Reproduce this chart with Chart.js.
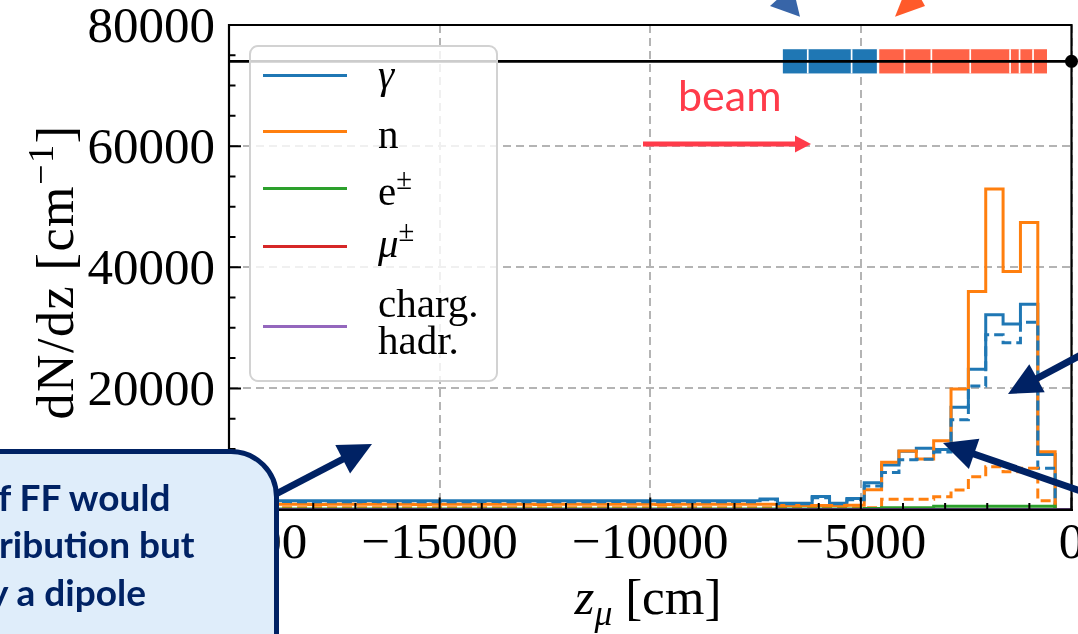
<!DOCTYPE html>
<html>
<head>
<meta charset="utf-8">
<script src="https://cdn.jsdelivr.net/npm/chart.js@4.4.1/dist/chart.umd.min.js"></script>
<style>
  html, body { margin: 0; padding: 0; background: #fff; }
  #wrap { position: relative; width: 1078px; height: 634px; overflow: hidden; background: #fff; }
  #c { position: absolute; left: 0; top: 0; }
  .abs { position: absolute; white-space: nowrap; }
  .serif { font-family: "Liberation Serif", "DejaVu Serif", serif; color: #000; }
  .sup { font-size: 0.7em; position: relative; top: -0.55em; line-height: 0; vertical-align: 0; }
  .sub { font-size: 0.7em; position: relative; top: 0.3em; line-height: 0; vertical-align: 0; }
  #legendBox { position: absolute; left: 249px; top: 45px; width: 249px; height: 337px; box-sizing: border-box;
    border: 2.5px solid #d2d2d2; border-radius: 9px; background: rgba(255,255,255,0.8); }
  .legLine { position: absolute; height: 3px; }
  .legText { font-size: 41px; line-height: 40px; }
  #callout { position: absolute; left: -80px; top: 449px; width: 359px; height: 320px; box-sizing: border-box;
    border: 5px solid #002264; border-radius: 48px; background: #dfedfa; }
  .callTxt { font-family: Lato, "Open Sans", sans-serif; font-weight: 700; font-size: 37px; line-height: 36px; color: #002264; }
  #beamTxt { font-family: Lato, "Open Sans", sans-serif; font-size: 43px; line-height: 43px; color: #ff3b4a; }
</style>
</head>
<body>
<div id="wrap">
  <canvas id="c" width="1078" height="634"></canvas>

  <svg class="abs" width="1078" height="634" style="left:0;top:0">
    <polygon points="776.7,0 796,0 800,16.7 770,6" fill="#3865a8"/>
    <polygon points="901.7,0 921.7,0 925,6 895,16.7" fill="#ff5a2a"/>
    <line x1="643" y1="144" x2="798" y2="144" stroke="#ff3b4a" stroke-width="5"/>
    <polygon points="795,135.5 811,144 795,152.5" fill="#ff3b4a"/>
  </svg>
  <div id="beamTxt" class="abs" style="left:678px;top:73px">beam</div>

  <div id="legendBox"></div>
  <div id="legendItems"></div>

  <div class="abs serif" id="ytitle" style="left:55px;top:272px;font-size:52px;line-height:51px;letter-spacing:1.5px;transform:translate(-50%,-50%) rotate(-90deg);">dN/dz [cm<span class="sup">−1</span>]</div>
  <div class="abs serif" id="xtitle" style="left:648px;top:572px;font-size:51px;line-height:51px;transform:translateX(-50%);"><i>z</i><span class="sub"><i>μ</i></span> [cm]</div>

  <div id="callout"></div>
  <div class="abs callTxt" style="left:-2px;top:479px">f FF would</div>
  <div class="abs callTxt" style="left:-1px;top:526px">ribution but</div>
  <div class="abs callTxt" style="left:-11px;top:574px">y a dipole</div>

  <svg class="abs" width="1078" height="634" style="left:0;top:0">
    <line x1="276" y1="494" x2="345" y2="458" stroke="#002264" stroke-width="7"/>
    <polygon points="372,444 350.1,473.4 335.3,445" fill="#002264"/>
    <line x1="1090" y1="350" x2="1034" y2="380" stroke="#002264" stroke-width="7"/>
    <polygon points="1008,394 1029.3,364.2 1044.7,392.2" fill="#002264"/>
    <line x1="1095" y1="496" x2="971" y2="453" stroke="#002264" stroke-width="7"/>
    <polygon points="943,443 979.4,438.7 968.9,468.9" fill="#002264"/>
  </svg>
</div>

<script>
// ---------------- DATA ----------------
// histogram binning (cm): 49 bins of ~412 cm, first edge at -20164 cm
const binStart = -20164;
const binWidth = 412;

// dN/dz per bin [cm^-1]
const gammaSolid = [1450,1450,1450,1460,1450,1440,1450,1450,1460,1450,
                    1450,1440,1450,1450,1450,1460,1450,1450,1440,1450,
                    1450,1450,1460,1450,1450,1440,1450,1450,1450,1460,
                    1450,1750,1050,1050,2150,1050,1800,4430,7360,9600,
                    10100,9900,16900,23150,32150,30650,33900,9100,0];
const gammaDashed = [1300,1300,1300,1310,1300,1290,1300,1300,1310,1300,
                     1300,1290,1300,1300,1300,1310,1300,1300,1290,1300,
                     1300,1300,1310,1300,1300,1290,1300,1300,1300,1310,
                     1300,1600,950,950,1950,950,1600,3900,6100,8200,
                     8300,9500,14800,20400,28850,27550,30900,6800,0];
const neutronSolid = [850,850,850,860,850,840,850,850,860,850,
                      850,840,850,850,850,860,850,850,840,850,
                      850,850,860,850,850,840,850,850,850,860,
                      850,850,650,650,650,650,700,3250,7800,9650,
                      8350,11370,19900,36000,52900,39300,47400,9550,0];
const neutronDashed = [300,300,300,300,300,300,300,300,300,300,
                       300,300,300,300,300,300,300,300,300,300,
                       300,300,300,300,300,300,300,300,300,300,
                       300,300,300,300,300,300,300,300,1700,1700,
                       1700,2100,3200,5400,7050,6250,6800,1450,0];
const electrons = [100,100,100,100,100,100,100,100,100,100,
                   100,100,100,100,100,100,100,100,100,100,
                   100,100,100,100,100,100,100,100,100,100,
                   100,100,100,100,100,100,100,150,300,300,
                   300,550,550,550,550,550,550,550,0];
const muons = [0,0,0,0,0,0,0,0,0,0, 0,0,0,0,0,0,0,0,0,0,
               0,0,0,0,0,0,0,0,0,0, 0,0,0,0,0,0,0,0,0,0,
               0,0,0,0,0,0,0,0,0];
const hadrons = [0,0,0,0,0,0,0,0,0,0, 0,0,0,0,0,0,0,0,0,0,
                 0,0,0,0,0,0,0,0,0,0, 0,0,0,0,0,0,0,0,0,0,
                 0,0,0,0,0,0,0,0,0];

// legend
const seriesLabels = ['<i>γ</i>', 'n', 'e<span class="sup">±</span>', '<i>μ</i><span class="sup">±</span>', 'charg.<br>hadr.'];
const seriesColors = ['#1f77b4', '#ff7f0e', '#2ca02c', '#d62728', '#9467bd'];

// beam line and magnet elements (z in cm, height in dN/dz units)
const beamLineLevel = 74000;
const beamLineRange = [-20000, 0];
const magnetLow = 72000, magnetHigh = 76000;
const dipoleEdges = [-6852, -6261, -5220, -4621];
const quadEdges = [-4564, -3966, -3327, -2404, -1458, -1233, -913, -582];

// axis ticks
const xTickValues = [-20000, -15000, -10000, -5000, 0];
const yTickValues = [0, 20000, 40000, 60000, 80000];

// ---------------- CHART ----------------
function stepPoints(vals) {
  const pts = [{x: binStart, y: 0}];
  vals.forEach((v, i) => pts.push({x: binStart + i * binWidth, y: v}));
  const end = binStart + vals.length * binWidth;
  pts.push({x: end, y: vals[vals.length - 1]});
  pts.push({x: end, y: 0});
  return pts;
}
function histDS(vals, color, dashed, order) {
  return {
    data: stepPoints(vals), borderColor: color, borderWidth: 3, stepped: 'before',
    borderDash: dashed ? [10, 5] : [], pointRadius: 0, fill: false, order: order
  };
}
const fmt = v => String(v).replace('-', '\u2212');

const magnetsPlugin = {
  id: 'magnets',
  beforeDatasetsDraw(chart) {
    const {ctx, scales: {x, y}} = chart;
    const yTop = y.getPixelForValue(magnetHigh), yBot = y.getPixelForValue(magnetLow);
    const drawSet = (edges, color) => {
      ctx.fillStyle = color;
      ctx.fillRect(x.getPixelForValue(edges[0]), yTop, x.getPixelForValue(edges[edges.length - 1]) - x.getPixelForValue(edges[0]), yBot - yTop);
      ctx.strokeStyle = '#fff'; ctx.lineWidth = 1.7;
      for (let i = 1; i < edges.length - 1; i++) {
        const px = x.getPixelForValue(edges[i]);
        ctx.beginPath(); ctx.moveTo(px, yTop); ctx.lineTo(px, yBot); ctx.stroke();
      }
    };
    ctx.save();
    drawSet(dipoleEdges, '#1f77b4');
    drawSet(quadEdges, '#ff6347');
    ctx.restore();
  }
};

const ticksPlugin = {
  id: 'ticksIn',
  afterDraw(chart) {
    const {ctx, chartArea: a, scales: {x, y}} = chart;
    ctx.save();
    ctx.strokeStyle = '#000'; ctx.lineWidth = 2.2;
    ctx.beginPath();
    ctx.moveTo(a.left, a.bottom); ctx.lineTo(a.left, a.top); ctx.lineTo(a.right, a.top); ctx.lineTo(a.right, a.bottom); ctx.lineTo(a.left, a.bottom);
    ctx.stroke();
    ctx.lineWidth = 2;
    ctx.beginPath();
    for (let v = x.min; v <= x.max; v += 1000) {
      const px = x.getPixelForValue(v);
      const L = (v % 5000 === 0) ? 12 : 6.5;
      ctx.moveTo(px, a.bottom); ctx.lineTo(px, a.bottom - L);
    }
    for (let v = y.min; v <= y.max; v += 5000) {
      const py = y.getPixelForValue(v);
      const L = (v % 20000 === 0) ? 12 : 6.5;
      ctx.moveTo(a.left, py); ctx.lineTo(a.left + L, py);
    }
    ctx.stroke();
    ctx.restore();
  }
};

const tickFont = {family: '"Liberation Serif", "DejaVu Serif", serif', size: 51};

new Chart(document.getElementById('c'), {
  type: 'line',
  data: {
    datasets: [
      {data: beamLineRange.map(z => ({x: z, y: beamLineLevel})), borderColor: '#000', borderWidth: 2.6,
       pointRadius: [0, 6.5], pointBackgroundColor: '#000', pointBorderWidth: 0, clip: false, order: 0},
      histDS(hadrons, seriesColors[4], false, 1),
      histDS(muons, seriesColors[3], false, 2),
      histDS(electrons, seriesColors[2], false, 3),
      histDS(neutronDashed, seriesColors[1], true, 4),
      histDS(gammaDashed, seriesColors[0], true, 5),
      histDS(neutronSolid, seriesColors[1], false, 6),
      histDS(gammaSolid, seriesColors[0], false, 7)
    ]
  },
  options: {
    responsive: false, animation: false, devicePixelRatio: 1,
    layout: {padding: {left: 0, right: 3.4, top: 25, bottom: 0}},
    plugins: {legend: {display: false}, tooltip: {enabled: false}},
    scales: {
      x: {
        type: 'linear', min: -20000, max: 0,
        afterBuildTicks: s => { s.ticks = xTickValues.map(v => ({value: v})); },
        ticks: {font: tickFont, color: '#000', padding: 5, maxRotation: 0, autoSkip: false, callback: v => fmt(v)},
        grid: {color: '#b4b4b4', lineWidth: 2, drawTicks: false},
        border: {display: true, color: '#000', width: 2, dash: [8, 5]},
        afterFit: s => { s.height = 124.5; s.paddingLeft = 0; s.paddingRight = 0; }
      },
      y: {
        type: 'linear', min: 0, max: 80000,
        afterBuildTicks: s => { s.ticks = yTickValues.map(v => ({value: v})); },
        ticks: {font: tickFont, color: '#000', padding: 14, labelOffset: 3.5, callback: v => fmt(v)},
        grid: {color: '#b4b4b4', lineWidth: 2, drawTicks: false},
        border: {display: true, color: '#000', width: 2, dash: [8, 5]},
        afterFit: s => { s.width = 229; s.paddingTop = 0; s.paddingBottom = 0; }
      }
    }
  },
  plugins: [magnetsPlugin, ticksPlugin]
});

// ---------------- LEGEND (HTML, built from the series arrays) ----------------
(function () {
  const host = document.getElementById('legendItems');
  const lineY = [75, 131.7, 188.3, 246.7, 326];
  const textTop = [54, 114, 171, 223, 285];
  seriesLabels.forEach((lab, i) => {
    const ln = document.createElement('div');
    ln.className = 'legLine';
    ln.style.cssText = `left:263px;width:84px;top:${lineY[i] - 1.5}px;background:${seriesColors[i]}`;
    host.appendChild(ln);
    const t = document.createElement('div');
    t.className = 'abs serif legText';
    t.style.left = '378px';
    t.style.top = textTop[i] + 'px';
    if (i === 4) t.style.lineHeight = '36.7px';
    t.innerHTML = lab;
    host.appendChild(t);
  });
})();
</script>
</body>
</html>
